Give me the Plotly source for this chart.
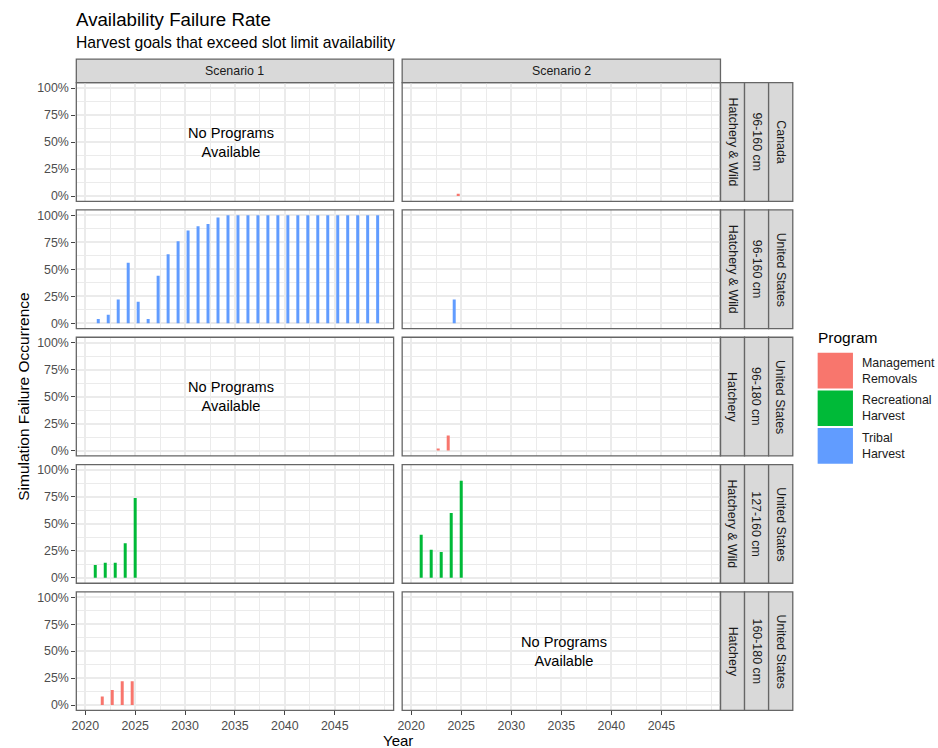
import plotly.graph_objects as go

# ---------------- data ----------------
programs = ["Management Removals", "Recreational Harvest", "Tribal Harvest"]
scenarios = ["Scenario 1", "Scenario 2"]
row_origin = ["Hatchery & Wild", "Hatchery & Wild", "Hatchery", "Hatchery & Wild", "Hatchery"]
row_slot = ["96-160 cm", "96-160 cm", "96-180 cm", "127-160 cm", "160-180 cm"]
row_country = ["Canada", "United States", "United States", "United States", "United States"]

x_tick_years = [2020, 2025, 2030, 2035, 2040, 2045]
y_tick_vals = [0, 0.25, 0.5, 0.75, 1.0]
y_tick_text = ["0%", "25%", "50%", "75%", "100%"]

# Canada 96-160 cm, Scenario 2, Management Removals
s2_ca_96_160_mgmt_years = [2025]
s2_ca_96_160_mgmt_vals = [0.02]

# US 96-160 cm, Scenario 1, Tribal Harvest
s1_us_96_160_tribal_years = [2021, 2022, 2023, 2024, 2025, 2026, 2027, 2028, 2029, 2030,
                             2031, 2032, 2033, 2034, 2035, 2036, 2037, 2038, 2039, 2040,
                             2041, 2042, 2043, 2044, 2045, 2046, 2047, 2048, 2049]
s1_us_96_160_tribal_vals = [0.04, 0.08, 0.22, 0.56, 0.20, 0.04, 0.44, 0.64, 0.76, 0.86,
                            0.90, 0.92, 0.98, 1.00, 1.00, 1.00, 1.00, 1.00, 1.00, 1.00,
                            1.00, 1.00, 1.00, 1.00, 1.00, 1.00, 1.00, 1.00, 1.00]

# US 96-160 cm, Scenario 2, Tribal Harvest
s2_us_96_160_tribal_years = [2024]
s2_us_96_160_tribal_vals = [0.22]

# US 96-180 cm Hatchery, Scenario 2, Management Removals
s2_us_96_180_mgmt_years = [2023, 2024]
s2_us_96_180_mgmt_vals = [0.02, 0.14]

# US 127-160 cm, Recreational Harvest
s1_us_127_160_rec_years = [2021, 2022, 2023, 2024, 2025]
s1_us_127_160_rec_vals = [0.12, 0.14, 0.14, 0.32, 0.74]
s2_us_127_160_rec_years = [2021, 2022, 2023, 2024, 2025]
s2_us_127_160_rec_vals = [0.40, 0.26, 0.24, 0.60, 0.90]

# US 160-180 cm Hatchery, Scenario 1, Management Removals
s1_us_160_180_mgmt_years = [2022, 2023, 2024, 2025]
s1_us_160_180_mgmt_vals = [0.08, 0.14, 0.22, 0.22]

# (row, col, program index, years, values)
panel_series = [
    (0, 1, 0, s2_ca_96_160_mgmt_years, s2_ca_96_160_mgmt_vals),
    (1, 0, 2, s1_us_96_160_tribal_years, s1_us_96_160_tribal_vals),
    (1, 1, 2, s2_us_96_160_tribal_years, s2_us_96_160_tribal_vals),
    (2, 1, 0, s2_us_96_180_mgmt_years, s2_us_96_180_mgmt_vals),
    (3, 0, 1, s1_us_127_160_rec_years, s1_us_127_160_rec_vals),
    (3, 1, 1, s2_us_127_160_rec_years, s2_us_127_160_rec_vals),
    (4, 0, 0, s1_us_160_180_mgmt_years, s1_us_160_180_mgmt_vals),
]
# panels with no programs: (row, col, x position)
empty_panels = [(0, 0, 2034.6), (2, 0, 2034.6), (4, 1, 2035.3)]

# ---------------- style ----------------
colors = ["#F8766D", "#00BA38", "#619CFF"]
offsets = [-0.45, -0.15, 0.15]
bar_w = 0.3
FONT = "Liberation Sans, Arial, Helvetica, sans-serif"
W, H = 938, 748
GRID = "#EBEBEB"
BORDER = "#666666"
STRIP = "#D9D9D9"
SMALL = 12.4

def px(x):
    return x / W

def py(y):
    return 1 - y / H

col_x = [(71.7, 390.7), (399.3, 719.3)]
row_y = [(82.0, 201.2), (209.8, 329.0), (337.6, 456.8), (465.4, 584.6), (593.2, 712.3)]
strip_top = (58.3, 82.0)
strip_right = [(719.3, 743.5), (743.5, 767.7), (767.7, 792.0)]

def idx(r, c):
    return r * 2 + c + 1

fig = go.Figure()

for (r, c, p, yrs, vals) in panel_series:
    i = idx(r, c)
    fig.add_trace(go.Bar(
        x=yrs, y=vals, width=bar_w, offset=offsets[p],
        marker=dict(color=colors[p], line=dict(width=0)),
        name=programs[p], showlegend=False,
        xaxis="x" if i == 1 else f"x{i}", yaxis="y" if i == 1 else f"y{i}",
    ))

layout = dict(
    width=W, height=H, autosize=False,
    margin=dict(l=0, r=0, t=0, b=0),
    paper_bgcolor="white", plot_bgcolor="white",
    barmode="overlay", font=dict(family=FONT, color="#1A1A1A"),
    showlegend=False,
)

shapes = []
annotations = []

x_minor = [2022.5, 2027.5, 2032.5, 2037.5, 2042.5, 2047.5, 2050]
y_minor = [0.125, 0.375, 0.625, 0.875]

for r in range(5):
    for c in range(2):
        i = idx(r, c)
        xn = "xaxis" if i == 1 else f"xaxis{i}"
        yn = "yaxis" if i == 1 else f"yaxis{i}"
        xa = "x" if i == 1 else f"x{i}"
        ya = "y" if i == 1 else f"y{i}"
        x0, x1 = col_x[c]
        y0, y1 = row_y[r]
        bottom = (r == 4)
        left = (c == 0)
        layout[xn] = dict(
            domain=[px(x0), px(x1)], anchor=ya, range=[2019.1, 2050.9],
            tickmode="array", tickvals=x_tick_years, ticktext=[str(v) for v in x_tick_years],
            showticklabels=bottom, ticks="outside" if bottom else "",
            ticklen=3.5, tickwidth=1.4, tickcolor="#444444",
            tickfont=dict(family=FONT, size=SMALL, color="#4D4D4D"),
            showgrid=True, gridcolor=GRID, gridwidth=1.6, zeroline=False,
            showline=False, fixedrange=True,
            minor=dict(tickmode="array", tickvals=x_minor, showgrid=True,
                       gridcolor=GRID, gridwidth=0.8, ticks=""),
        )
        layout[yn] = dict(
            domain=[py(y1), py(y0)], anchor=xa, range=[-0.05, 1.05],
            tickmode="array", tickvals=y_tick_vals, ticktext=y_tick_text,
            showticklabels=left, ticks="outside" if left else "",
            ticklen=4, tickwidth=1.4, tickcolor="#444444",
            tickfont=dict(family=FONT, size=SMALL, color="#4D4D4D"),
            showgrid=True, gridcolor=GRID, gridwidth=1.6, zeroline=False,
            showline=False, fixedrange=True,
            minor=dict(tickmode="array", tickvals=y_minor, showgrid=True,
                       gridcolor=GRID, gridwidth=0.8, ticks=""),
        )
        # panel border
        shapes.append(dict(type="rect", xref="paper", yref="paper",
                           x0=px(x0), x1=px(x1), y0=py(y1), y1=py(y0),
                           line=dict(color=BORDER, width=1.3), fillcolor="rgba(0,0,0,0)",
                           layer="above"))

# top strips
for c in range(2):
    x0, x1 = col_x[c]
    shapes.append(dict(type="rect", xref="paper", yref="paper",
                       x0=px(x0), x1=px(x1), y0=py(strip_top[1]), y1=py(strip_top[0]),
                       line=dict(color=BORDER, width=1.3), fillcolor=STRIP, layer="below"))
    annotations.append(dict(xref="paper", yref="paper", x=px((x0 + x1) / 2),
                            y=py((strip_top[0] + strip_top[1]) / 2), text=scenarios[c],
                            showarrow=False, xanchor="center", yanchor="middle",
                            font=dict(family=FONT, size=SMALL, color="#1A1A1A")))

# right strips
for r in range(5):
    y0, y1 = row_y[r]
    labels = [row_origin[r], row_slot[r], row_country[r]]
    for k in range(3):
        sx0, sx1 = strip_right[k]
        shapes.append(dict(type="rect", xref="paper", yref="paper",
                           x0=px(sx0), x1=px(sx1), y0=py(y1), y1=py(y0),
                           line=dict(color=BORDER, width=1.3), fillcolor=STRIP, layer="below"))
        annotations.append(dict(xref="paper", yref="paper", x=px((sx0 + sx1) / 2),
                                y=py((y0 + y1) / 2), text=labels[k], textangle=90,
                                showarrow=False, xanchor="center", yanchor="middle",
                                font=dict(family=FONT, size=SMALL, color="#1A1A1A")))

# "No Programs Available" labels
for (r, c, xpos) in empty_panels:
    i = idx(r, c)
    annotations.append(dict(xref="x" if i == 1 else f"x{i}", yref="y" if i == 1 else f"y{i}",
                            x=xpos, y=0.5, text="No Programs<br>Available", showarrow=False,
                            xanchor="center", yanchor="middle",
                            font=dict(family=FONT, size=14.6, color="black")))

# titles
annotations.append(dict(xref="paper", yref="paper", x=px(69.0), y=py(18.5),
                        text="Availability Failure Rate", showarrow=False,
                        xanchor="left", yanchor="middle",
                        font=dict(family=FONT, size=18.7, color="black")))
annotations.append(dict(xref="paper", yref="paper", x=px(69.0), y=py(41.5),
                        text="Harvest goals that exceed slot limit availability", showarrow=False,
                        xanchor="left", yanchor="middle",
                        font=dict(family=FONT, size=15.7, color="black")))
# axis titles
annotations.append(dict(xref="paper", yref="paper", x=px(395.5), y=py(742.0),
                        text="Year", showarrow=False, xanchor="center", yanchor="middle",
                        borderpad=0,
                        font=dict(family=FONT, size=15.0, color="black")))
annotations.append(dict(xref="paper", yref="paper", x=px(18.5), y=py(397.0),
                        text="Simulation Failure Occurrence", showarrow=False, textangle=-90,
                        xanchor="center", yanchor="middle",
                        font=dict(family=FONT, size=15.5, color="black")))

# legend (drawn manually to mimic ggplot keys)
annotations.append(dict(xref="paper", yref="paper", x=px(815.0), y=py(337.5),
                        text="Program", showarrow=False, xanchor="left", yanchor="middle",
                        font=dict(family=FONT, size=15.5, color="black")))
key_top = 352.7
key_h = 37.8
for p, name in enumerate(programs):
    ky0 = key_top + p * key_h
    shapes.append(dict(type="rect", xref="paper", yref="paper",
                       x0=px(817.0), x1=px(852.5), y0=py(ky0 + key_h - 1.5), y1=py(ky0 + 0.5),
                       line=dict(width=0), fillcolor=colors[p], layer="above"))
    annotations.append(dict(xref="paper", yref="paper", x=px(860.0), y=py(ky0 + key_h / 2 - 0.5),
                            text=name.replace(" ", "<br>"), showarrow=False, align="left",
                            xanchor="left", yanchor="middle",
                            font=dict(family=FONT, size=SMALL, color="#1A1A1A")))

layout["shapes"] = shapes
layout["annotations"] = annotations
fig.update_layout(**layout)

fig.write_html("out.html")
